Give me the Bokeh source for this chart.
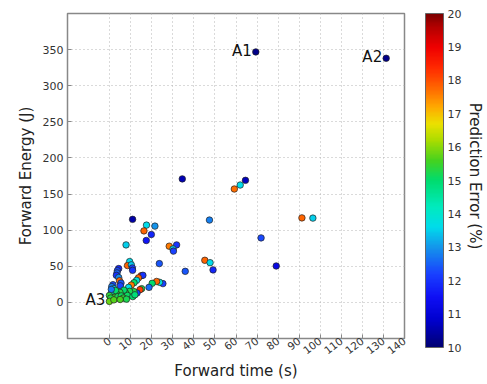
import numpy as np
from bokeh.plotting import figure
from bokeh.models import (ColumnDataSource, LinearColorMapper, ColorBar, FixedTicker,
                          Title, Range1d)
from bokeh.core.properties import value
from bokeh.embed import file_html
from bokeh.resources import INLINE

# ---------------- data ----------------
forward_time = [69.4, 131.3, 34.5, 64.5, 62.0, 59.2, 91.3, 96.5, 47.4, 10.9,
                17.5, 21.5, 16.3, 19.8, 17.4, 71.9, 7.8, 28.3, 31.8, 30.1,
                30.3, 79.1, 23.6, 35.9, 45.2, 47.7, 49.1,
                9.5, 8.5, 10.3, 10.8, 10.9,
                4.3, 3.7, 3.5, 3.2, 4.3, 4.7, 5.4, 5.1, 1.6, 1.0, 2.0,
                15.0, 15.8, 13.7, 12.8, 11.6, 10.3, 9.0,
                25.3, 23.7, 22.3, 20.2, 18.7,
                15.2, 14.4, 13.0, 11.5,
                9.5, 7.6, 8.4, 6.8, 4.9, 3.3, 1.9, 1.0, -0.1, 2.2,
                3.9, 0.5, -0.1, 2.0, 5.5, 6.5, 8.0, 11.0, 12.0, 5.0, 2.8, 0.8]
forward_energy = [346.8, 338.0, 171.0, 169.0, 162.5, 157.0, 117.0, 116.7, 114.0, 115.0,
                  107.0, 105.6, 99.0, 94.0, 85.7, 89.3, 79.6, 77.8, 79.6, 74.0,
                  71.0, 50.4, 53.7, 43.0, 58.3, 55.0, 45.0,
                  56.5, 51.0, 52.0, 47.6, 44.4,
                  46.8, 44.0, 40.8, 37.5, 34.5, 30.0, 26.8, 23.0, 24.5, 21.8, 19.0,
                  37.0, 37.5, 34.0, 30.5, 27.3, 24.0, 20.8,
                  26.0, 27.8, 29.0, 26.4, 20.8,
                  19.0, 17.6, 13.0, 15.0,
                  15.3, 13.0, 9.7, 17.0, 13.9, 12.0, 13.0, 14.8, 9.7, 7.0,
                  8.0, 6.0, 1.4, 3.5, 9.0, 6.0, 4.5, 8.0, 10.5, 4.0, 16.5, 18.0]
prediction_error = [10.2, 10.2, 10.6, 10.7, 13.6, 17.7, 17.8, 13.5, 12.8, 10.5,
                    13.6, 13.0, 17.8, 11.8, 11.6, 12.3, 13.5, 17.6, 12.0, 13.5,
                    12.2, 11.2, 12.4, 12.4, 17.8, 13.6, 11.8,
                    13.6, 17.8, 13.4, 12.2, 12.0,
                    11.8, 12.3, 12.5, 12.0, 12.9, 17.8, 12.4, 12.2, 12.3, 12.8, 13.4,
                    18.4, 12.0, 17.8, 13.8, 15.0, 17.6, 13.7,
                    12.2, 13.8, 17.8, 15.0, 12.6,
                    15.2, 18.2, 12.2, 15.3,
                    15.2, 15.4, 15.1, 15.0, 15.3, 15.5, 15.2, 13.8, 15.4, 15.6,
                    15.2, 15.3, 15.8, 15.7, 15.1, 15.4, 15.2, 15.0, 14.9, 15.6, 15.0, 12.7]

label_names = ["A1", "A2", "A3"]
label_time = [69.4, 131.3, -0.1]
label_energy = [346.8, 338.0, 1.4]

x_ticks = [0, 10, 20, 30, 40, 50, 60, 70, 80, 90, 100, 110, 120, 130, 140]
y_ticks = [0, 50, 100, 150, 200, 250, 300, 350]
cbar_ticks = [10, 11, 12, 13, 14, 15, 16, 17, 18, 19, 20]

# ---------------- colormap ----------------
stops = [(10.0, (0, 0, 115)), (10.8, (0, 0, 205)), (11.5, (15, 15, 245)),
         (12.2, (25, 65, 255)), (13.0, (20, 150, 235)), (13.6, (0, 220, 235)),
         (14.2, (0, 235, 190)), (15.0, (0, 220, 110)), (15.6, (70, 210, 30)),
         (16.2, (170, 220, 0)), (16.7, (235, 225, 0)), (17.2, (255, 170, 0)),
         (17.8, (255, 100, 0)), (18.4, (255, 40, 0)), (19.0, (240, 0, 0)),
         (19.6, (180, 0, 0)), (20.0, (125, 0, 0))]
sv = np.array([s[0] for s in stops])
sc = np.array([s[1] for s in stops], dtype=float)
vals = np.linspace(10, 20, 256)
palette = []
for v in vals:
    r = np.interp(v, sv, sc[:, 0]); g = np.interp(v, sv, sc[:, 1]); b = np.interp(v, sv, sc[:, 2])
    palette.append("#%02x%02x%02x" % (int(round(r)), int(round(g)), int(round(b))))

mapper = LinearColorMapper(palette=palette, low=10, high=20)

FONT = "DejaVu Sans"

p = figure(width=487, height=384, output_backend="svg", toolbar_location=None,
           x_range=Range1d(-20, 140), y_range=Range1d(-50, 400),
           min_border_left=67, min_border_top=13, min_border_bottom=46, min_border_right=10)

src = ColumnDataSource(dict(x=forward_time, y=forward_energy, e=prediction_error))
p.scatter("x", "y", source=src, size=6.5, fill_color={"field": "e", "transform": mapper},
          line_color="#222222", line_width=0.7)

lsrc = ColumnDataSource(dict(x=label_time, y=label_energy, t=label_names))
p.text("x", "y", text="t", source=lsrc, text_align="right", text_baseline="middle",
       x_offset=-4, y_offset=-1, text_font=value(FONT), text_font_size="15px",
       text_color="#111111")

p.xaxis.ticker = FixedTicker(ticks=x_ticks)
p.yaxis.ticker = FixedTicker(ticks=y_ticks)
p.xaxis.major_label_orientation = 0.65
for ax in (p.xaxis, p.yaxis):
    ax.major_tick_in = 4
    ax.major_tick_out = 0
    ax.minor_tick_line_color = None
    ax.axis_line_color = "#888888"
    ax.major_tick_line_color = "#888888"
    ax.major_label_text_font = FONT
    ax.major_label_text_font_size = "11px"
    ax.major_label_text_color = "#333333"
    ax.axis_label_text_font = FONT
    ax.axis_label_text_font_size = "15px"
    ax.axis_label_text_font_style = "normal"
    ax.axis_label_text_color = "#222222"
p.xaxis.major_label_text_font_size = "10.5px"
p.xaxis.axis_label = "Forward time (s)"
p.yaxis.axis_label = "Forward Energy (J)"
p.xaxis.axis_label_standoff = 1
p.yaxis.axis_label_standoff = 5
p.xaxis.major_label_standoff = 1
p.yaxis.major_label_standoff = 4

p.grid.grid_line_color = "#b5b5b5"
p.grid.grid_line_dash = "1 3"
p.outline_line_color = "#888888"
p.outline_line_width = 1.5

# blank spacer between frame and colour bar
p.add_layout(Title(text=" ", text_font_size="10px", standoff=8, offset=0), "right")

cb = ColorBar(color_mapper=mapper, ticker=FixedTicker(ticks=cbar_ticks), width=18,
              height=334, padding=0, major_label_text_font=FONT,
              major_label_text_font_size="11px", major_label_text_color="#333333",
              major_tick_line_color=None, bar_line_color="#666666",
              label_standoff=4)
p.add_layout(cb, "right")
p.add_layout(Title(text="Prediction Error (%)", align="center", text_font=FONT,
                   text_font_size="15px", text_font_style="normal", standoff=3,
                   text_color="#222222"), "right")

open("out.html", "w").write(file_html(p, INLINE))
